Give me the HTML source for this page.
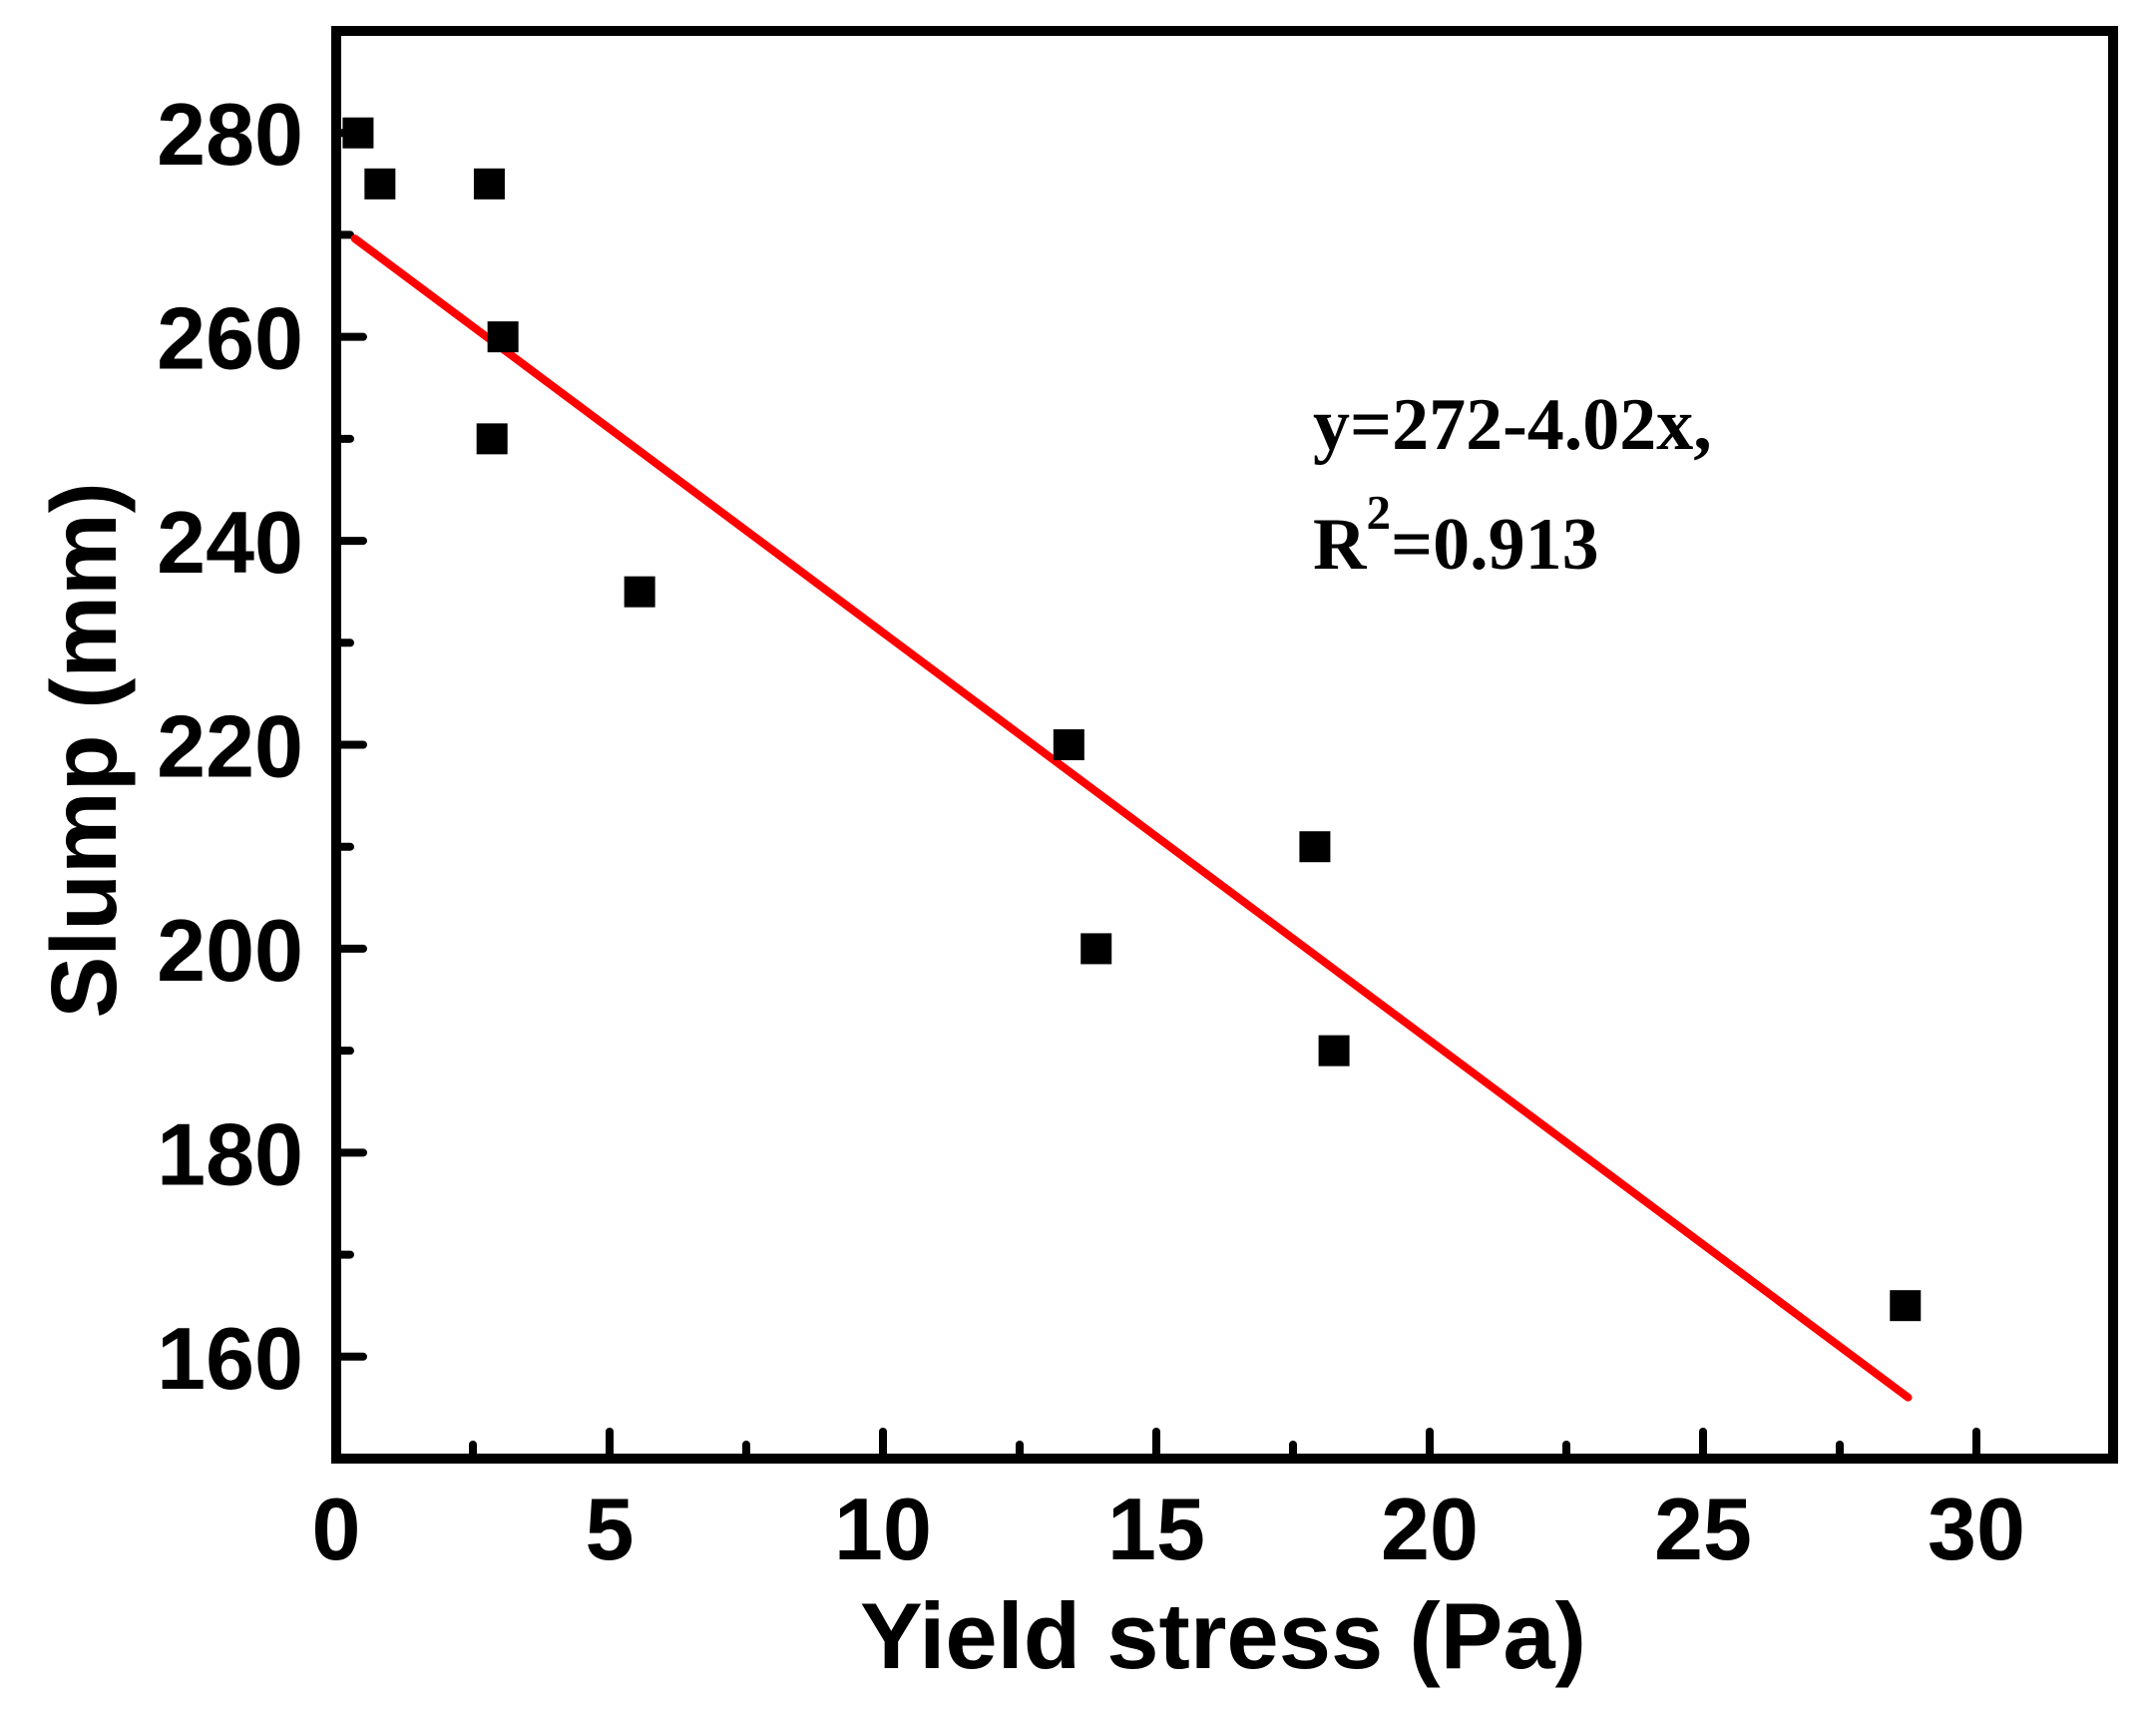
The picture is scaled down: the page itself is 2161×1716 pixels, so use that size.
<!DOCTYPE html>
<html><head><meta charset="utf-8"><style>
html,body{margin:0;padding:0;background:#fff;}
svg{display:block;}
</style></head><body>
<svg id="chart" width="2161" height="1716" viewBox="0 0 2161 1716" xmlns="http://www.w3.org/2000/svg">
<g id="ticks"></g>
<g id="ticklabels" font-family="Liberation Sans, Arial, sans-serif" font-weight="bold" font-size="88" fill="#000"></g>
<g id="fit"></g>
<g id="points"></g>
<rect x="337" y="31" width="1781" height="1431" fill="none" stroke="#000" stroke-width="10"/>
<text x="1226" y="1672" text-anchor="middle" font-family="Liberation Sans, Arial, sans-serif" font-weight="bold" font-size="94">Yield stress (Pa)</text>
<text transform="translate(116,752) rotate(-90)" text-anchor="middle" font-family="Liberation Sans, Arial, sans-serif" font-weight="bold" font-size="93">Slump (mm)</text>
<text x="1316" y="450" font-family="Liberation Serif, Times New Roman, serif" font-weight="bold" font-size="74">y=272-4.02x,</text>
<text x="1316" y="570" font-family="Liberation Serif, Times New Roman, serif" font-weight="bold" font-size="74">R<tspan dy="-40" font-size="49">2</tspan><tspan dy="40">=0.913</tspan></text>
</svg>
<script>
const xVals = [0.4, 0.8, 2.8, 3.05, 2.85, 5.55, 13.4, 13.9, 17.9, 18.25, 28.7];
const yVals = [280, 275, 275, 260, 250, 235, 220, 200, 210, 190, 165];
const xTicks = [0, 5, 10, 15, 20, 25, 30];
const yTicks = [160, 180, 200, 220, 240, 260, 280];
const fitIntercept = 271;
const fitSlope = -4.0;
const fitRange = [0.34, 28.75];

const X0 = 337, X1 = 2118, Y0 = 1462, Y1 = 31;
const xMin = 0, xMax = 32.5, yMin = 150, yMax = 290;
function sx(v){ return X0 + (v - xMin) / (xMax - xMin) * (X1 - X0); }
function sy(v){ return Y0 - (v - yMin) / (yMax - yMin) * (Y0 - Y1); }
const NS = 'http://www.w3.org/2000/svg';
function mk(tag, parent){ const e = document.createElementNS(NS, tag); parent.appendChild(e); return e; }

const tg = document.getElementById('ticks');
const lg = document.getElementById('ticklabels');
function tick(x1,y1,x2,y2,name){
  const l = mk('line', tg);
  l.setAttribute('x1',x1); l.setAttribute('y1',y1); l.setAttribute('x2',x2); l.setAttribute('y2',y2);
  l.setAttribute('stroke','#000'); l.setAttribute('stroke-width','8'); l.setAttribute('stroke-linecap','round');
  
  
}
xTicks.forEach(v => {
  tick(sx(v), Y0, sx(v), Y0 - 27, 'x-major-tick');
  tick(sx(v + 2.5), Y0, sx(v + 2.5), Y0 - 14, 'x-minor-tick');
  const t = mk('text', lg);
  t.setAttribute('x', sx(v)); t.setAttribute('y', 1563); t.setAttribute('text-anchor','middle');
  t.textContent = v;
  
  
});
yTicks.forEach(v => {
  tick(X0, sy(v), X0 + 27, sy(v), 'y-major-tick');
  tick(X0, sy(v - 10), X0 + 14, sy(v - 10), 'y-minor-tick');
  const t = mk('text', lg);
  t.setAttribute('x', 304); t.setAttribute('y', sy(v) + 32); t.setAttribute('text-anchor','end');
  t.textContent = v;
  
  
});
tick(X0, sy(290), X0 + 14, sy(290), 'y-minor-tick');

const fg = document.getElementById('fit');
const fl = mk('line', fg);
fl.setAttribute('x1', sx(fitRange[0])); fl.setAttribute('y1', sy(fitIntercept + fitSlope * fitRange[0]));
fl.setAttribute('x2', sx(fitRange[1])); fl.setAttribute('y2', sy(fitIntercept + fitSlope * fitRange[1]));
fl.setAttribute('stroke', '#ff0000'); fl.setAttribute('stroke-width', '8'); fl.setAttribute('stroke-linecap','round');



const pg = document.getElementById('points');
xVals.forEach((xv, i) => {
  const r = mk('rect', pg);
  r.setAttribute('x', sx(xv) - 15.5); r.setAttribute('y', sy(yVals[i]) - 15.5);
  r.setAttribute('width', 31); r.setAttribute('height', 31); r.setAttribute('fill', '#000');
  
  
});
</script>
</body></html>
